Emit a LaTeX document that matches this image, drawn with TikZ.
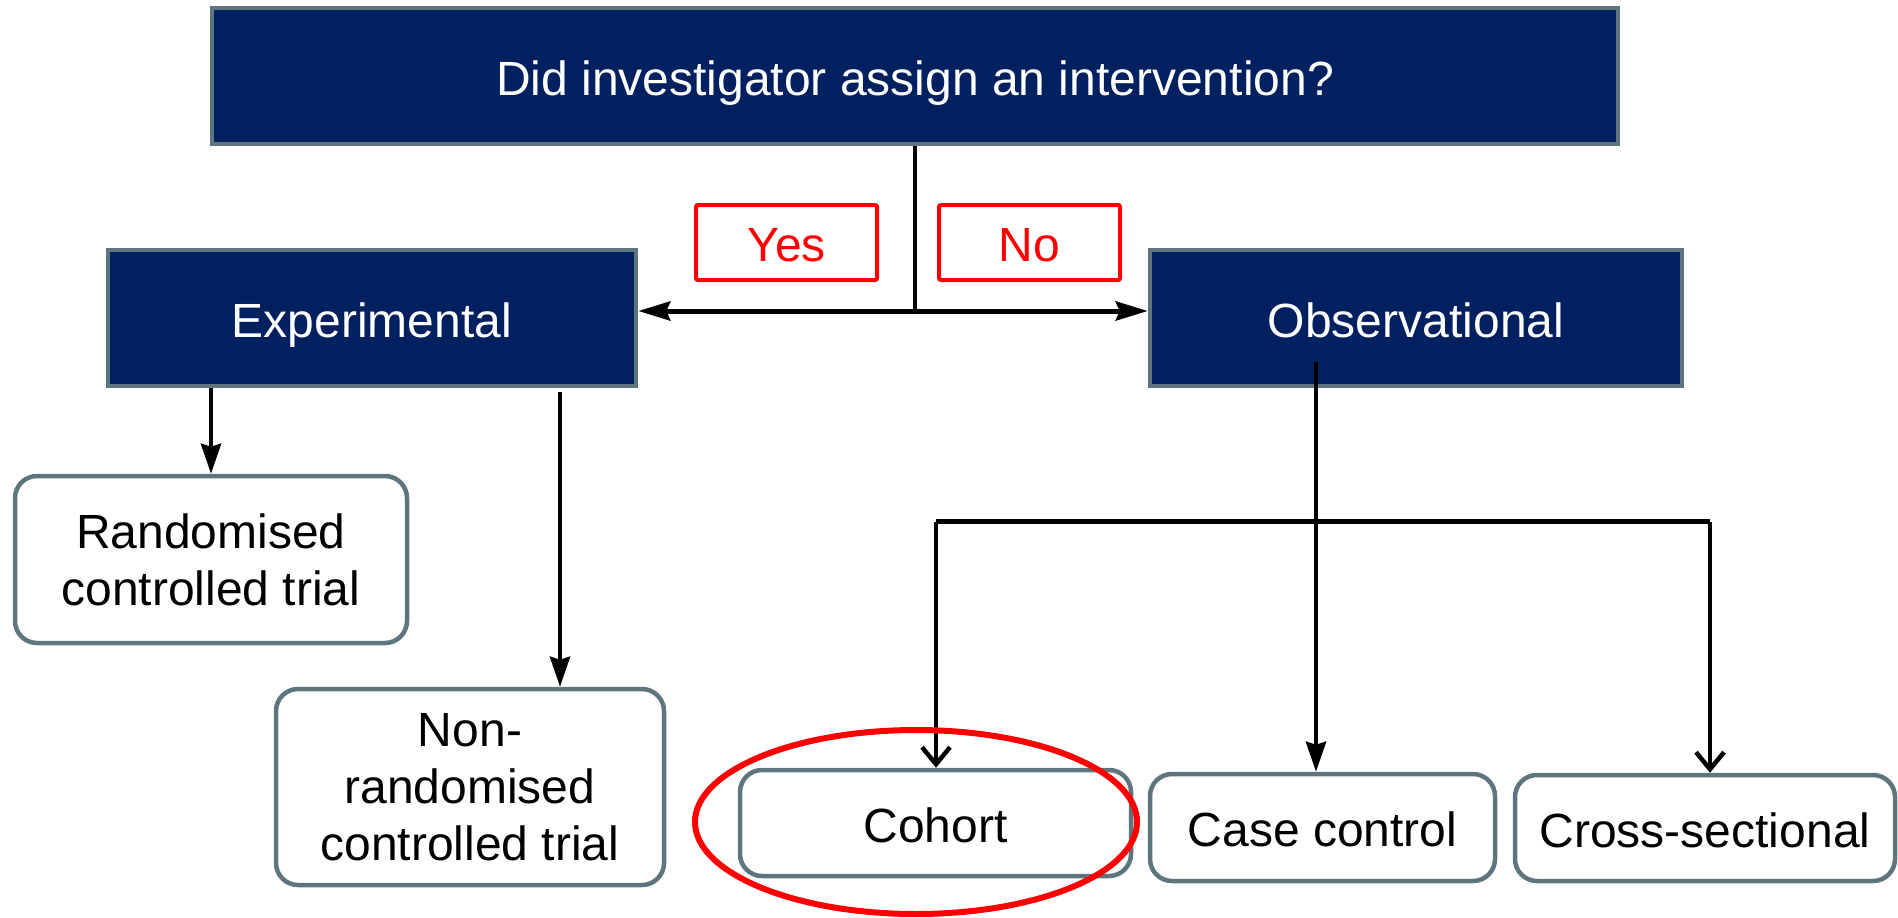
\documentclass[tikz,border=0pt]{standalone}
\usepackage{fontspec}
\setmainfont{Liberation Sans}
\usetikzlibrary{arrows.meta,calc}
\definecolor{navy}{RGB}{0,32,96}
\definecolor{slateedge}{RGB}{94,117,126}
\definecolor{alertred}{RGB}{255,0,0}
\tikzset{
  every node/.style={font=\fontsize{48}{57}\selectfont, align=center, inner sep=0pt},
  oneline/.style={text height=38pt, text depth=0pt},
  darkbox/.style={draw=slateedge, line width=4.5pt, fill=navy, text=white, rectangle, oneline},
  lightbox/.style={draw=slateedge, line width=4.5pt, fill=white, text=black, rectangle, rounded corners=22pt},
  answer/.style={draw=alertred, line width=4pt, fill=white, text=alertred, rectangle, rounded corners=2pt, oneline},
  link/.style={draw=black, line width=4.5pt},
  solidtip/.style={-{Stealth[length=30pt,width=20pt,inset=3pt]}},
  opentip/.style={-{Straight Barb[length=17pt,width=28pt,line width=4.5pt]}},
  sidetip/.style={-{Stealth[length=32pt,width=19pt,inset=4pt]}},
}
\begin{document}
\begin{tikzpicture}[x=1pt,y=-1pt]
\useasboundingbox (0,0) rectangle (1898,918);

% decision box and the two main branches
\node[darkbox, minimum width=1406pt, minimum height=136pt] (q) at (915,76) {Did investigator assign an intervention?};
\node[darkbox, minimum width=528pt, minimum height=136pt] (exp) at (372,318) {Experimental};
\node[darkbox, minimum width=532pt, minimum height=136pt] (obs) at (1416,318) {Observational};

% answer labels
\node[answer, minimum width=181pt, minimum height=75pt] (yes) at (786.5,242.5) {Yes};
\node[answer, minimum width=181pt, minimum height=75pt] (no) at (1029.5,242.5) {No};

% study designs
\node[lightbox, minimum width=392pt, minimum height=167pt] (rct) at (211,559.5) {Randomised\\controlled trial};
\node[lightbox, minimum width=388pt, minimum height=196pt] (nrct) at (470,787) {Non-\\randomised\\controlled trial};
\node[lightbox, oneline, minimum width=391pt, minimum height=106pt] (cohort) at (935.5,823) {Cohort};
\node[lightbox, oneline, minimum width=345pt, minimum height=107pt] (cc) at (1322.5,827.5) {Case control};
\node[lightbox, oneline, minimum width=380pt, minimum height=106pt] (cs) at (1705,828) {Cross-sectional};

% junction points
\coordinate (split) at (915,311);
\coordinate (nrstart) at (560,392);
\coordinate (obsstart) at (1316,362);
\coordinate (barL) at (936,521.5);
\coordinate (barR) at (1710,521.5);

% yes / no split
\draw[link] (q.south) -- (split);
\draw[link, line width=5pt, sidetip] (split) -- (split -| exp.east);
\draw[link, line width=5pt, sidetip] (split) -- (split -| obs.west);

% experimental designs
\draw[link, solidtip] (exp.south -| rct.north) -- (rct.north);
\draw[link, solidtip] (nrstart) -- (nrstart |- nrct.north);

% observational designs
\draw[link, line width=5pt] (barL) -- (barR);
\draw[link, solidtip] (obsstart) -- (obsstart |- cc.north);
\draw[link, opentip] (barL) -- (barL |- cohort.north);
\draw[link, opentip] (barR) -- (barR |- cs.north);

% highlight around the cohort design
\draw[alertred, line width=6pt] (cohort.center) ++(-19.5,-1) ellipse [x radius=221pt, y radius=92pt];
\end{tikzpicture}
\end{document}
